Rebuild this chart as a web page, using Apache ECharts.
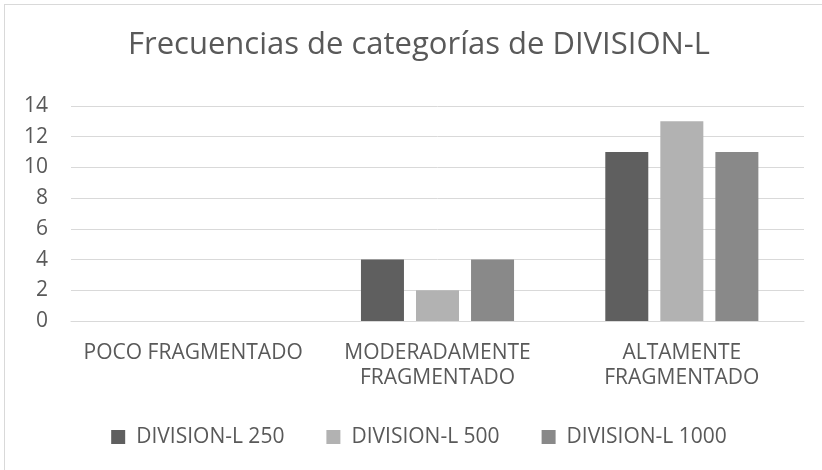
<!DOCTYPE html>
<html>
<head>
<meta charset="utf-8">
<script src="https://cdn.jsdelivr.net/npm/echarts@6/dist/echarts.min.js"></script>
<style>
    html, body {margin: 0; padding: 0; background: #fff; overflow: hidden;}
    #chart {position: absolute; left: 4px; top: 4px; width: 830px; height: 480px; box-sizing: border-box; border: 1px solid #d9d9d9;}
</style>
</head>
<body>
<div id="chart"></div>
<script>
var categories = ['POCO FRAGMENTADO', 'MODERADAMENTE\nFRAGMENTADO', 'ALTAMENTE\nFRAGMENTADO'];
var seriesNames = ['DIVISION-L 250', 'DIVISION-L 500', 'DIVISION-L 1000'];
var div250 = [0, 4, 11];
var div500 = [0, 2, 13];
var div1000 = [0, 4, 11];
var yTicks = [0, 14, 2];

var font = 'Open Sans';
var colorArr = ['#5f5f5f', '#b2b2b2', '#898989'];
var values = [div250, div500, div1000];

var myChart = echarts.init(document.getElementById('chart'));

var series = [];
for (var i = 0; i < seriesNames.length; i++) {
    series.push({
        name: seriesNames[i],
        type: 'bar',
        data: values[i],
        barWidth: 43,
        barGap: '28%',
        itemStyle: {color: colorArr[i]}
    });
}

var option = {
    animation: false,
    color: colorArr,
    title: {
        text: 'Frecuencias de categorías de DIVISION-L',
        left: 'center',
        top: 20,
        textStyle: {fontFamily: font, fontSize: 31, fontWeight: 'normal', color: '#595959'}
    },
    legend: {
        data: seriesNames,
        top: 416,
        left: 'center',
        itemWidth: 14,
        itemHeight: 14,
        itemGap: 42,
        icon: 'rect',
        textStyle: {fontFamily: font, fontSize: 21, lineHeight: 22, color: '#595959', padding: [0, 0, 0, 6]}
    },
    grid: {
        left: 66,
        right: 29,
        top: 101,
        bottom: 162
    },
    xAxis: [{
        type: 'category',
        data: categories,
        axisLine: {lineStyle: {color: '#d9d9d9'}},
        axisTick: {show: false},
        axisLabel: {interval: 0, fontFamily: font, fontSize: 21, color: '#595959', margin: 20, lineHeight: 25}
    }],
    yAxis: [{
        type: 'value',
        min: yTicks[0],
        max: yTicks[1],
        interval: yTicks[2],
        axisLine: {show: false},
        axisTick: {show: false},
        splitLine: {lineStyle: {color: '#d9d9d9'}},
        axisLabel: {fontFamily: font, fontSize: 21, color: '#595959', margin: 23}
    }],
    series: series
};

myChart.setOption(option);
</script>
</body>
</html>
